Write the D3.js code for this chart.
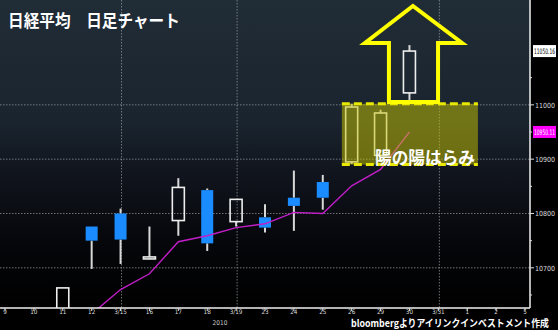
<!DOCTYPE html>
<html>
<head>
<meta charset="utf-8">
<script src="https://cdn.jsdelivr.net/npm/d3@7"></script>
<style>
  body { margin: 0; background: #000; }
  svg { display: block; }
</style>
</head>
<body>
<div id="chart"></div>
<script>
// trading days, March - April 2010
let dates = ["9", "10", "11", "12", "3/15", "16", "17", "18", "3/19", "23", "24", "25", "26", "29", "30", "3/31", "1", "2", "5"]

// daily candles (only the days that show a candle)
let candleDays = ["11", "12", "3/15", "16", "17", "18", "3/19", "23", "24", "25", "26", "29", "30"]
let opens  = [10600, 10776, 10800, 10717, 10787, 10843, 10785, 10793, 10829, 10858, 10895, 10907, 11022]
let highs  = [10663, 10776, 10809, 10776, 10865, 10846, 10826, 10817, 10879, 10871, 11002, 10991, 11110]
let lows   = [10590, 10698, 10707, 10716, 10759, 10731, 10776, 10765, 10768, 10807, 10891, 10905, 11009]
let closes = [10663, 10750, 10752, 10720, 10848, 10745, 10826, 10774, 10814, 10829, 10996, 10985, 11099]

// moving average line
let maDays   = ["12", "3/15", "16", "17", "18", "3/19", "23", "24", "25", "26", "29", "30"]
let maValues = [10615, 10660, 10689, 10748, 10759, 10774, 10781, 10802, 10800, 10851, 10881, 10950]

let yTicks = [10700, 10800, 10900, 11000]
let yMinorTicks = [10650, 10750, 10850, 10950, 11050]
let vGridDays = ["3/15", "3/19", "3/31"]

let lastPrice = 11050.16
let lastMa = 10950.11

let title = "日経平均　日足チャート"
let source = "bloombergよりアイリンクインベストメント作成"
let patternLabel = "陽の陽はらみ"
let yearLabel = "2010"

const W = 558, H = 330
const plotW = 530, plotH = 308

let svg = d3.select("#chart").append("svg")
    .attr("width", W)
    .attr("height", H)

let defs = svg.append("defs")
let grad = defs.append("linearGradient")
    .attr("id", "bg")
    .attr("x1", 0).attr("y1", 0).attr("x2", 0).attr("y2", 1)
grad.append("stop").attr("offset", "0%").attr("stop-color", "#202c36")
grad.append("stop").attr("offset", "40%").attr("stop-color", "#1a242e")
grad.append("stop").attr("offset", "55%").attr("stop-color", "#11151e")
grad.append("stop").attr("offset", "78%").attr("stop-color", "#06070b")
grad.append("stop").attr("offset", "100%").attr("stop-color", "#000")

defs.append("clipPath").attr("id", "plotClip")
    .append("rect").attr("width", plotW).attr("height", plotH)

svg.append("rect").attr("width", W).attr("height", H).attr("fill", "#000")
svg.append("rect").attr("width", plotW).attr("height", plotH).attr("fill", "url(#bg)")

let x = d3.scalePoint().domain(dates).range([5, 525])
let y = d3.scaleLinear().domain([10626, 11193]).range([plotH, 0])
// fractional day index -> pixel, for the hand drawn annotations
let xi = d3.scaleLinear().domain([0, dates.length - 1]).range([5, 525])

// squeeze a text horizontally so it fits a given width
function squeeze(sel, x0, width) {
    sel.each(function () {
        let w = this.getComputedTextLength()
        let k = width / w
        d3.select(this).attr("transform", `translate(${x0},0) scale(${k},1)`)
    })
}

// grid
svg.append("g").selectAll("line").data(yTicks).join("line")
    .attr("x1", 0).attr("x2", plotW)
    .attr("y1", d => y(d)).attr("y2", d => y(d))
    .attr("stroke", "#9aa0a6").attr("stroke-width", 1)
    .attr("stroke-dasharray", "1.5,1.5").attr("opacity", 0.7)

svg.append("g").selectAll("line").data(vGridDays).join("line")
    .attr("x1", d => x(d) + 1).attr("x2", d => x(d) + 1)
    .attr("y1", 0).attr("y2", plotH)
    .attr("stroke", "#9aa0a6").attr("stroke-width", 1)
    .attr("stroke-dasharray", "1.5,1.5").attr("opacity", 0.7)

let plot = svg.append("g").attr("clip-path", "url(#plotClip)")

// candles
let candles = candleDays.map((d, i) => ({ day: d, o: opens[i], h: highs[i], l: lows[i], c: closes[i] }))
let bodyW = 12

let cg = plot.append("g").selectAll("g").data(candles).join("g")

cg.append("line")
    .attr("x1", d => x(d.day)).attr("x2", d => x(d.day))
    .attr("y1", d => y(d.h)).attr("y2", d => y(Math.max(d.o, d.c)))
    .attr("stroke", "#d8d8d8").attr("stroke-width", 2)
cg.append("line")
    .attr("x1", d => x(d.day)).attr("x2", d => x(d.day))
    .attr("y1", d => y(Math.min(d.o, d.c))).attr("y2", d => y(d.l))
    .attr("stroke", "#d8d8d8").attr("stroke-width", 2)

cg.append("rect")
    .attr("x", d => x(d.day) - bodyW / 2)
    .attr("width", bodyW)
    .attr("y", d => y(Math.max(d.o, d.c)))
    .attr("height", d => Math.max(2, Math.abs(y(d.o) - y(d.c))))
    .attr("fill", d => d.c >= d.o ? "none" : "#1a8cff")
    .attr("stroke", d => d.c >= d.o ? "#eeeeee" : "none")
    .attr("stroke-width", 1.6)

// moving average
let ma = maDays.map((d, i) => ({ day: d, v: maValues[i] }))
plot.append("path")
    .datum(ma)
    .attr("d", d3.line().x(d => x(d.day)).y(d => y(d.v)))
    .attr("fill", "none")
    .attr("stroke", "#c21ec8")
    .attr("stroke-width", 1.4)

// harami box
let box = { i0: 11.66, i1: 16.37, v0: 10890, v1: 11002 }
plot.append("rect")
    .attr("x", xi(box.i0)).attr("width", xi(box.i1) - xi(box.i0))
    .attr("y", y(box.v1)).attr("height", y(box.v0) - y(box.v1))
    .attr("fill", "#c8c400").attr("opacity", 0.5)
plot.append("g").selectAll("line").data([box.v1, box.v0]).join("line")
    .attr("x1", xi(box.i0)).attr("x2", xi(box.i1))
    .attr("y1", d => y(d)).attr("y2", d => y(d))
    .attr("stroke", "#e8e800").attr("stroke-width", 3)
    .attr("stroke-dasharray", "8,4")

svg.append("text")
    .attr("y", y(box.v0) - 1)
    .attr("font-family", "Noto Sans CJK JP").attr("font-weight", "bold")
    .attr("font-size", 17).attr("fill", "#fff")
    .text(patternLabel)
    .call(squeeze, 375, 100)

// up arrow
let arrowPts = [[13.29, 11005], [13.29, 11114], [12.46, 11114], [14.12, 11182],
    [15.82, 11114], [14.99, 11114], [14.99, 11005]]
svg.append("path")
    .attr("d", d3.line().x(d => xi(d[0])).y(d => y(d[1]))(arrowPts) + "Z")
    .attr("fill", "none")
    .attr("stroke", "#ffff00")
    .attr("stroke-width", 4)
    .attr("stroke-linejoin", "miter")

// axes lines
svg.append("line").attr("x1", 0).attr("x2", plotW).attr("y1", plotH).attr("y2", plotH)
    .attr("stroke", "#f0f0f0").attr("stroke-width", 1.5)
svg.append("line").attr("x1", plotW).attr("x2", plotW).attr("y1", 0).attr("y2", plotH)
    .attr("stroke", "#f0f0f0").attr("stroke-width", 1.5)

// x ticks
let xg = svg.append("g")
xg.selectAll("line").data(dates).join("line")
    .attr("x1", d => x(d)).attr("x2", d => x(d))
    .attr("y1", plotH).attr("y2", plotH + 3)
    .attr("stroke", "#ddd")
xg.selectAll("text").data(dates).join("text")
    .attr("x", d => x(d)).attr("y", plotH + 6)
    .attr("text-anchor", "middle")
    .attr("font-family", "DejaVu Sans Condensed, DejaVu Sans").attr("font-size", 6.3)
    .attr("fill", "#ddd")
    .text(d => d)

svg.append("text")
    .attr("x", 220).attr("y", 325)
    .attr("text-anchor", "middle")
    .attr("font-family", "DejaVu Sans Condensed, DejaVu Sans").attr("font-size", 6.5)
    .attr("fill", "#ccc")
    .text(yearLabel)

// y ticks
let yg = svg.append("g")
yg.selectAll("line.major").data(yTicks).join("line")
    .attr("x1", plotW).attr("x2", plotW + 4)
    .attr("y1", d => y(d)).attr("y2", d => y(d))
    .attr("stroke", "#ddd")
yg.selectAll("line.minor").data(yMinorTicks).join("line")
    .attr("x1", plotW).attr("x2", plotW + 2)
    .attr("y1", d => y(d)).attr("y2", d => y(d))
    .attr("stroke", "#ddd")
yg.selectAll("text").data(yTicks).join("text")
    .attr("x", plotW + 5).attr("y", d => y(d) + 3)
    .attr("font-family", "DejaVu Sans Condensed, DejaVu Sans").attr("font-size", 7)
    .attr("fill", "#ddd")
    .text(d => d)

// price tags
let tags = [
    { v: closes[closes.length - 1], label: lastPrice.toFixed(2), bg: "#ffffff", fg: "#000" },
    { v: lastMa, label: lastMa.toFixed(2), bg: "#ff00ff", fg: "#fff" }
]
let tg = svg.append("g").selectAll("g").data(tags).join("g")
tg.append("rect")
    .attr("x", plotW + 3).attr("y", d => y(d.v) - 6)
    .attr("width", 23).attr("height", 12)
    .attr("fill", d => d.bg)
tg.append("text")
    .attr("y", d => y(d.v) + 3)
    .attr("font-family", "DejaVu Sans Condensed, DejaVu Sans").attr("font-size", 7.5)
    .attr("fill", d => d.fg)
    .text(d => d.label)
    .call(squeeze, plotW + 4, 21)

// titles
svg.append("text")
    .attr("y", 27)
    .attr("font-family", "Noto Sans CJK JP").attr("font-weight", "bold")
    .attr("font-size", 17).attr("fill", "#fff")
    .text(title)
    .call(squeeze, 8, 172)

svg.append("text")
    .attr("y", 327.2)
    .attr("font-family", "Noto Sans CJK JP").attr("font-weight", "bold")
    .attr("font-size", 10).attr("fill", "#fff")
    .text(source)
    .call(squeeze, 351, 198)
</script>
</body>
</html>
